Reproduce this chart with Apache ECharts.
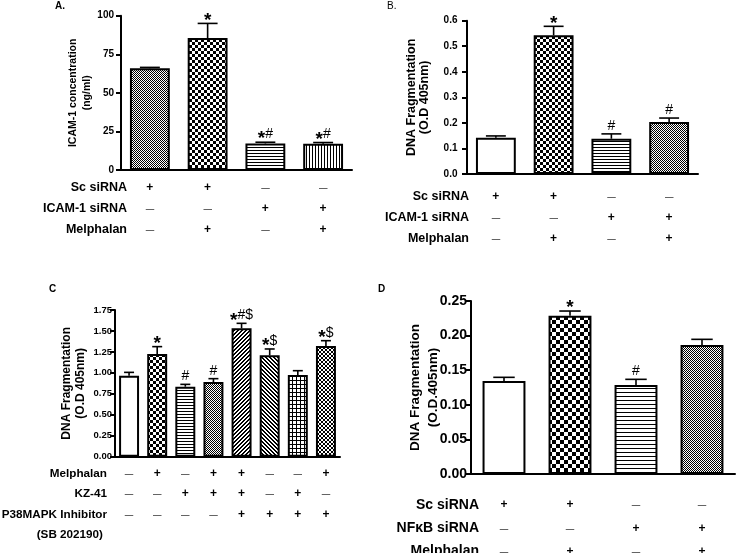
<!DOCTYPE html>
<html><head><meta charset="utf-8">
<script src="https://cdn.jsdelivr.net/npm/echarts@6/dist/echarts.min.js"></script>
<style>html,body{margin:0;padding:0;background:#fff}#c{width:736px;height:553px}</style>
</head><body><div id="c"></div>
<script>
// ---------------- DATA ----------------
// Panel A
const aMeans = [66.0, 85.5, 17.2, 17.0];
const aSem = [0.5, 9.5, 0.8, 0.8];
const aMarks = ['', '*', '*#', '*#'];
const aTicks = [0, 25, 50, 75, 100];
const aRowLabels = ['Sc siRNA', 'ICAM-1 siRNA', 'Melphalan'];
const aSigns = [['+', '+', '-', '-'], ['-', '-', '+', '+'], ['-', '+', '-', '+']];
const aYName = ['ICAM-1 concentration', '(ng/ml)'];
// Panel B
const bMeans = [0.142, 0.543, 0.138, 0.204];
const bSem = [0.007, 0.035, 0.019, 0.015];
const bMarks = ['', '*', '#', '#'];
const bTicks = [0, 0.1, 0.2, 0.3, 0.4, 0.5, 0.6];
const bRowLabels = ['Sc siRNA', 'ICAM-1 siRNA', 'Melphalan'];
const bSigns = [['+', '+', '-', '-'], ['-', '-', '+', '+'], ['-', '+', '-', '+']];
const bYName = ['DNA Fragmentation', '(O.D 405nm)'];
// Panel C
const cMeans = [0.967, 1.225, 0.835, 0.891, 1.531, 1.209, 0.975, 1.321];
const cSem = [0.039, 0.088, 0.028, 0.040, 0.060, 0.076, 0.051, 0.063];
const cMarks = ['', '*', '#', '#', '*#$', '*$', '', '*$'];
const cTicks = [0, 0.25, 0.5, 0.75, 1.0, 1.25, 1.5, 1.75];
const cRowLabels = ['Melphalan', 'KZ-41', 'P38MAPK Inhibitor', '(SB 202190)'];
const cSigns = [['-', '+', '-', '+', '+', '-', '-', '+'], ['-', '-', '+', '+', '+', '-', '+', '-'], ['-', '-', '-', '-', '+', '+', '+', '+']];
const cYName = ['DNA Fragmentation', '(O.D 405nm)'];
// Panel D
const dMeans = [0.1344, 0.2288, 0.1286, 0.1864];
const dSem = [0.0053, 0.0067, 0.0082, 0.0082];
const dMarks = ['', '*', '#', ''];
const dTicks = [0, 0.05, 0.10, 0.15, 0.20, 0.25];
const dRowLabels = ['Sc siRNA', 'NF\u03baB siRNA', 'Melphalan'];
const dSigns = [['+', '+', '-', '-'], ['-', '-', '+', '+'], ['-', '+', '-', '+']];
const dYName = ['DNA Fragmentation', '(O.D.405nm)'];
const panelTitles = ['A.', 'B.', 'C', 'D'];

// ---------------- STYLE ----------------
const FONT = '"Liberation Sans", Arial, sans-serif';
function mk(w, h, draw) {
  const c = document.createElement('canvas'); c.width = w; c.height = h;
  const g = c.getContext('2d'); g.fillStyle = '#fff'; g.fillRect(0, 0, w, h); g.fillStyle = '#000';
  draw(g, w, h); return { image: c, repeat: 'repeat' };
}
const P = {
  white: '#ffffff',
  fine: mk(2, 2, g => { g.fillRect(0, 0, 1, 1); g.fillRect(1, 1, 1, 1); }),
  check3: mk(6, 6, g => { g.fillRect(0, 0, 3, 3); g.fillRect(3, 3, 3, 3); }),
  check4: mk(8, 8, g => { g.fillRect(0, 0, 4, 4); g.fillRect(4, 4, 4, 4); }),
  hline3: mk(3, 3, g => g.fillRect(0, 0, 3, 1)),
  hline4: mk(4, 4, g => g.fillRect(0, 0, 4, 1)),
  vline3: mk(3, 3, g => g.fillRect(0, 0, 1, 3)),
  diagR: mk(4, 4, g => { for (let i = 0; i < 4; i++) { g.fillRect(i, 3 - i, 1, 1); g.fillRect((i + 1) % 4, 3 - i, 1, 1); } }),
  diagL: mk(4, 4, g => { for (let i = 0; i < 4; i++) { g.fillRect(i, i, 1, 1); g.fillRect((i + 1) % 4, i, 1, 1); } }),
  grid4: mk(4, 4, g => { g.fillRect(0, 0, 4, 1); g.fillRect(0, 0, 1, 4); }),
  cross: mk(4, 4, g => { for (let i = 0; i < 4; i++) { g.fillRect(i, i, 1, 1); g.fillRect(i, 3 - i, 1, 1); } })
};

const panels = [
  { means: aMeans, sem: aSem, marks: aMarks, ticks: aTicks, rows: aRowLabels, signs: aSigns, yname: aYName,
    fills: [P.fine, P.check3, P.hline3, P.vline3], dec: 0,
    grid: { left: 121, top: 15.7, width: 231, height: 154.3 }, barW: 0.69, tickMargin: 7,
    tickFont: 10, nameFont: 10.5, nameLH: 14, nameGap: 27, rowFont: 12.5, rowLH: 21, labMargin: 7.5, rowX: 127, row0: 188,
    title: { x: 55, y: 6, bold: true, size: 10 } },
  { means: bMeans, sem: bSem, marks: bMarks, ticks: bTicks, rows: bRowLabels, signs: bSigns, yname: bYName,
    fills: [P.white, P.check3, P.hline3, P.fine], dec: 1,
    grid: { left: 467, top: 20.7, width: 231, height: 153.3 }, barW: 0.69, tickMargin: 9.5,
    tickFont: 10, nameFont: 12.5, nameLH: 13, nameGap: 36, rowFont: 12.5, rowLH: 21, labMargin: 12, rowX: 469, row0: 196.7,
    title: { x: 387, y: 6, bold: false, size: 10 } },
  { means: cMeans, sem: cSem, marks: cMarks, ticks: cTicks, rows: cRowLabels, signs: cSigns, yname: cYName,
    fills: [P.white, P.check3, P.hline3, P.fine, P.diagR, P.diagL, P.grid4, P.cross], dec: 2,
    grid: { left: 115, top: 310, width: 225, height: 146.7 }, barW: 0.71, tickMargin: 3,
    tickFont: 9.5, nameFont: 12, nameLH: 13.5, nameGap: 28, rowFont: 11.7, rowLH: 20.5, labMargin: 6.5, rowX: 107, row0: 473.3,
    title: { x: 49, y: 289, bold: true, size: 10 } },
  { means: dMeans, sem: dSem, marks: dMarks, ticks: dTicks, rows: dRowLabels, signs: dSigns, yname: dYName,
    fills: [P.white, P.check4, P.hline4, P.fine], dec: 2,
    grid: { left: 471, top: 301, width: 264, height: 173 }, barW: 0.65, tickMargin: 4,
    tickFont: 14, nameFont: 13.5, nameLH: 18, nameGap: 29, rowFont: 14, rowLH: 23.3, labMargin: 19.5, rowX: 479, row0: 505,
    title: { x: 378, y: 289, bold: true, size: 10 } }
];

const grids = [], xAxes = [], yAxes = [], series = [], graphics = [];
panels.forEach((p, k) => {
  grids.push(Object.assign({ containLabel: false, outerBoundsMode: 'none' }, p.grid));
  xAxes.push({
    type: 'category', gridIndex: k, data: p.means.map((_, i) => String(i + 1)),
    axisLine: { lineStyle: { color: '#000', width: 2 } },
    axisTick: { alignWithLabel: true, length: 5, lineStyle: { color: '#000', width: 2 } },
    axisLabel: {
      margin: p.labMargin, interval: 0, color: '#000', lineHeight: p.rowLH,
      formatter: (v, idx) => p.signs.map(r => r[idx] === '+' ? '{p|+}' : '{m|\u2014}').join('\n'),
      rich: {
        p: { fontFamily: FONT, fontSize: 12, fontWeight: 'bold', color: '#000', lineHeight: p.rowLH },
        m: { fontFamily: FONT, fontSize: 8.5, fontWeight: 'normal', color: '#000', lineHeight: p.rowLH, padding: [2, 0, 0, 0] }
      }
    }
  });
  const ymax = p.ticks[p.ticks.length - 1];
  yAxes.push({
    type: 'value', gridIndex: k, min: p.ticks[0], max: ymax, interval: p.ticks[1] - p.ticks[0],
    name: p.yname.join('\n'), nameLocation: 'middle', nameRotate: 90, nameGap: p.nameGap, nameMoveOverlap: false,
    nameTextStyle: { fontFamily: FONT, fontWeight: 'bold', fontSize: p.nameFont, lineHeight: p.nameLH, color: '#000', align: 'center' },
    axisLine: { show: true, lineStyle: { color: '#000', width: 2 } },
    axisTick: { show: true, length: 5, lineStyle: { color: '#000', width: 2 } },
    axisLabel: { margin: p.tickMargin, color: '#000', fontFamily: FONT, fontWeight: 'bold', fontSize: p.tickFont,
      formatter: v => v.toFixed(p.dec) },
    splitLine: { show: false }
  });
  series.push({
    type: 'bar', xAxisIndex: k, yAxisIndex: k, barWidth: (p.barW * 100) + '%',
    data: p.means.map((v, i) => ({ value: v, itemStyle: { color: p.fills[i] } })),
    itemStyle: { borderColor: '#000', borderWidth: 2 }, silent: true, animation: false
  });
  const marks = p.marks;
  const barW = p.barW;
  series.push({
    type: 'custom', xAxisIndex: k, yAxisIndex: k, z: 5, animation: false, silent: true,
    data: p.means.map((v, i) => [i, v, v + p.sem[i]]),
    renderItem: (params, api) => {
      const i = api.value(0);
      const mid = api.coord([i, api.value(1)]);
      const top = api.coord([i, api.value(2)]);
      const bw = api.size([1, 0])[0] * barW;
      const cap = bw / 2;
      const ls = { stroke: '#000', lineWidth: 1.6 };
      const ch = [
        { type: 'line', shape: { x1: top[0], y1: mid[1], x2: top[0], y2: top[1] }, style: ls },
        { type: 'line', shape: { x1: top[0] - cap / 2, y1: top[1], x2: top[0] + cap / 2, y2: top[1] }, style: ls }
      ];
      const mk = marks[params.dataIndex];
      if (mk) {
        const txt = mk.split('').map(c => c === '*' ? '{s|*}' : '{h|' + c + '}').join('');
        ch.push({ type: 'text', x: top[0], y: top[1] - 1,
          style: { text: txt, align: 'center', verticalAlign: 'bottom',
            rich: {
              s: { fontFamily: FONT, fontSize: 19, fontWeight: 'bold', fill: '#000', padding: [10, 0, 0, 0], lineHeight: 14 },
              h: { fontFamily: FONT, fontSize: 14, fontWeight: 'normal', fill: '#000', lineHeight: 14 }
            } } });
      }
      return { type: 'group', children: ch };
    }
  });
  p.rows.forEach((r, j) => {
    graphics.push({ type: 'text', x: p.rowX - (k === 2 && j === 3 ? 4 : 0), y: p.row0 + j * p.rowLH,
      style: { text: r, align: 'right', verticalAlign: 'middle', fill: '#000',
        font: 'bold ' + p.rowFont + 'px ' + FONT } });
  });
  graphics.push({ type: 'text', x: p.title.x, y: p.title.y,
    style: { text: panelTitles[k], align: 'left', verticalAlign: 'middle', fill: '#000',
      font: (p.title.bold ? 'bold ' : '') + p.title.size + 'px ' + FONT } });
});

const chart = echarts.init(document.getElementById('c'), null, { renderer: 'canvas' });
chart.setOption({
  animation: false, backgroundColor: '#fff',
  grid: grids, xAxis: xAxes, yAxis: yAxes, series: series, graphic: graphics
});
</script></body></html>
